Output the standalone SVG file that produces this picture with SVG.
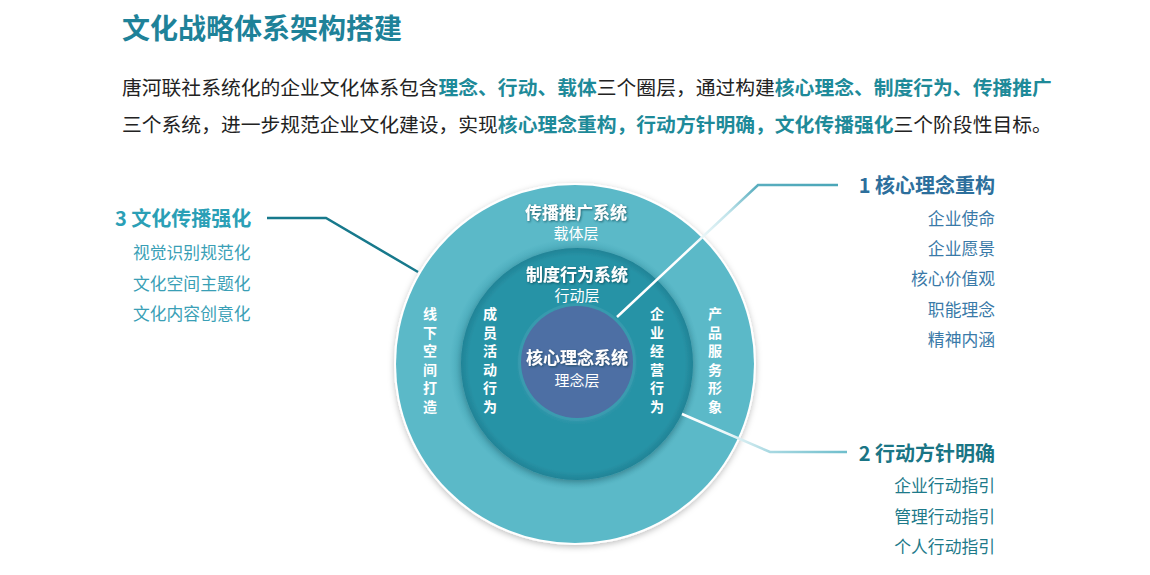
<svg xmlns="http://www.w3.org/2000/svg" width="1150" height="575" viewBox="0 0 1150 575">
<defs>
<style>
.t{font-family:"Noto Sans CJK SC","Noto Sans",sans-serif}
.b{font-weight:bold}
.hl{fill:#1e8a99;font-weight:bold}
.ct{fill:#ffffff;font-weight:bold;font-size:17px;text-anchor:middle;filter:url(#ts)}
.cs{fill:#ffffff;font-size:15px;text-anchor:middle}
.vt{fill:#ffffff;font-weight:bold;font-size:14px;text-anchor:middle}
.r1{fill:#3a7aa8;font-size:16.8px;text-anchor:end}
.r2{fill:#1d7a8a;font-size:16.8px;text-anchor:end}
.l3{fill:#3a9fb6;font-size:16.8px}
</style>
<filter id="sh" x="-10%" y="-10%" width="120%" height="120%">
<feDropShadow dx="0" dy="2" stdDeviation="3" flood-color="#000" flood-opacity="0.25"/>
</filter>
<filter id="ts" x="-10%" y="-30%" width="120%" height="160%">
<feDropShadow dx="1" dy="1" stdDeviation="0.8" flood-color="#0b3a48" flood-opacity="0.7"/>
</filter>
<radialGradient id="gOuter" cx="0.5" cy="0.5" r="0.5">
<stop offset="0.62" stop-color="#45a7b8"/>
<stop offset="0.7" stop-color="#5bb9c8"/>
<stop offset="1" stop-color="#5bb9c8"/>
</radialGradient>
<radialGradient id="gMid" cx="0.5" cy="0.5" r="0.5">
<stop offset="0.45" stop-color="#3b9bb0"/>
<stop offset="0.52" stop-color="#2893a6"/>
<stop offset="0.93" stop-color="#2893a6"/>
<stop offset="1" stop-color="#1f8396"/>
</radialGradient>
<linearGradient id="g1" gradientUnits="userSpaceOnUse" x1="617" y1="317" x2="838" y2="185">
<stop offset="0" stop-color="#ffffff"/>
<stop offset="0.38" stop-color="#ffffff"/>
<stop offset="0.58" stop-color="#bfe3ea"/>
<stop offset="0.72" stop-color="#5aaebf"/>
<stop offset="1" stop-color="#4aa6b8"/>
</linearGradient>
<linearGradient id="g2" gradientUnits="userSpaceOnUse" x1="682" y1="414" x2="847" y2="452">
<stop offset="0" stop-color="#ffffff"/>
<stop offset="0.3" stop-color="#eaf6f8"/>
<stop offset="0.55" stop-color="#a9d9e2"/>
<stop offset="1" stop-color="#6fbecc"/>
</linearGradient>
</defs>
<rect width="1150" height="575" fill="#ffffff"/>

<g id="header" class="t">
<text x="122" y="38.5" font-size="28" class="b" fill="#1e8299">文化战略体系架构搭建</text>
<text x="122" y="94.5" font-size="19.8" fill="#222222">唐河联社系统化的企业文化体系包含<tspan class="hl">理念、行动、载体</tspan>三个圈层，通过构建<tspan class="hl">核心理念、制度行为、传播推广</tspan></text>
<text x="122" y="131.5" font-size="19.8" fill="#222222">三个系统，进一步规范企业文化建设，实现<tspan class="hl">核心理念重构，行动方针明确，文化传播强化</tspan>三个阶段性目标。</text>
</g>

<g id="outer-ring">
<circle cx="575" cy="364" r="181" fill="#ffffff" filter="url(#sh)"/>
<circle cx="575" cy="364" r="179" fill="url(#gOuter)"/>
<text class="t ct" x="576" y="219">传播推广系统</text>
<text class="t cs" x="576" y="239">载体层</text>
<text class="t vt" x="430"><tspan x="430" y="319">线</tspan><tspan x="430" y="337.6">下</tspan><tspan x="430" y="356.2">空</tspan><tspan x="430" y="374.8">间</tspan><tspan x="430" y="393.4">打</tspan><tspan x="430" y="412">造</tspan></text>
<text class="t vt" x="715"><tspan x="715" y="319">产</tspan><tspan x="715" y="337.6">品</tspan><tspan x="715" y="356.2">服</tspan><tspan x="715" y="374.8">务</tspan><tspan x="715" y="393.4">形</tspan><tspan x="715" y="412">象</tspan></text>
</g>

<g id="middle-ring">
<circle cx="577" cy="364" r="116" fill="url(#gMid)" filter="url(#sh)"/>
<text class="t ct" x="577" y="281">制度行为系统</text>
<text class="t cs" x="577" y="301">行动层</text>
<text class="t vt" x="490"><tspan x="490" y="319">成</tspan><tspan x="490" y="337.6">员</tspan><tspan x="490" y="356.2">活</tspan><tspan x="490" y="374.8">动</tspan><tspan x="490" y="393.4">行</tspan><tspan x="490" y="412">为</tspan></text>
<text class="t vt" x="657"><tspan x="657" y="319">企</tspan><tspan x="657" y="337.6">业</tspan><tspan x="657" y="356.2">经</tspan><tspan x="657" y="374.8">营</tspan><tspan x="657" y="393.4">行</tspan><tspan x="657" y="412">为</tspan></text>
</g>

<g id="core">
<circle cx="577" cy="362" r="59" fill="#3f9fb2" opacity="0.6"/>
<circle cx="577" cy="362" r="56" fill="#4d6fa4"/>
<text class="t ct" x="577" y="364">核心理念系统</text>
<text class="t cs" x="577" y="386">理念层</text>
</g>

<g id="connectors" fill="none" stroke-linejoin="miter">
<polyline points="267,218 326,218 418,272" stroke="#17798c" stroke-width="2.5"/>
<polyline points="617,317 758,185 838,185" stroke="url(#g1)" stroke-width="2.5"/>
<polyline points="682,414 770,452 847,452" stroke="url(#g2)" stroke-width="2.5"/>
</g>

<g id="goal-1" class="t">
<text x="995" y="192.5" font-size="20" class="b" fill="#2d6f9c" text-anchor="end">1 核心理念重构</text>
<text class="r1" x="995" y="225">企业使命</text>
<text class="r1" x="995" y="255">企业愿景</text>
<text class="r1" x="995" y="285">核心价值观</text>
<text class="r1" x="995" y="316">职能理念</text>
<text class="r1" x="995" y="346">精神内涵</text>
</g>

<g id="goal-2" class="t">
<text x="995" y="460.5" font-size="20" class="b" fill="#1a7585" text-anchor="end">2 行动方针明确</text>
<text class="r2" x="995" y="492">企业行动指引</text>
<text class="r2" x="995" y="523">管理行动指引</text>
<text class="r2" x="995" y="553">个人行动指引</text>
</g>

<g id="goal-3" class="t">
<text x="115" y="225.5" font-size="20" class="b" fill="#2b9fb6">3 文化传播强化</text>
<text class="l3" x="133" y="259">视觉识别规范化</text>
<text class="l3" x="133" y="290">文化空间主题化</text>
<text class="l3" x="133" y="320">文化内容创意化</text>
</g>
</svg>
